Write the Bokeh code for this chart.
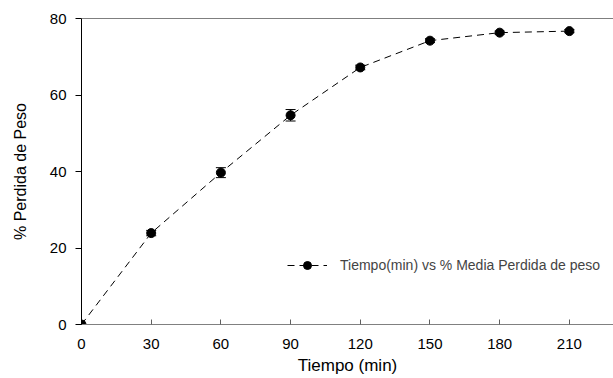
from bokeh.plotting import figure
from bokeh.models import Whisker, ColumnDataSource, Span, Legend, LegendItem, FixedTicker, Range1d
from bokeh.embed import file_html
from bokeh.resources import INLINE

tiempo = [0, 30, 60, 90, 120, 150, 180, 210]
perdida = [0.0, 23.9, 39.7, 54.7, 67.2, 74.2, 76.3, 76.7]
error = [0.0, 0.7, 1.3, 1.5, 0.6, 0.5, 0.4, 0.4]
x_ticks = [0, 30, 60, 90, 120, 150, 180, 210]
y_ticks = [0, 20, 40, 60, 80]
x_max = 229
y_max = 80

FONT = "Liberation Sans"

src = ColumnDataSource(dict(
    x=tiempo, y=perdida,
    lo=[v - e for v, e in zip(perdida, error)],
    hi=[v + e for v, e in zip(perdida, error)],
))

p = figure(width=613, height=378, output_backend="svg", toolbar_location=None,
           x_range=Range1d(0, x_max), y_range=Range1d(0, y_max),
           min_border_left=81, min_border_top=18, min_border_bottom=54, min_border_right=0)
p.outline_line_color = None
p.xgrid.visible = False
p.ygrid.visible = False
p.background_fill_color = "white"
p.border_fill_color = "white"

# axes
p.xaxis.ticker = FixedTicker(ticks=x_ticks)
p.yaxis.ticker = FixedTicker(ticks=y_ticks)
p.xaxis.axis_label = "Tiempo (min)"
p.yaxis.axis_label = "% Perdida de Peso"
for ax in (p.xaxis, p.yaxis):
    ax.axis_label_text_font = FONT
    ax.axis_label_text_font_style = "normal"
    ax.major_label_text_font = FONT
    ax.major_label_text_font_size = "15px"
    ax.major_label_text_color = "black"
    ax.axis_label_text_color = "black"
    ax.minor_tick_line_color = None
p.xaxis.axis_label_text_font_size = "17px"
p.yaxis.axis_label_text_font_size = "16px"
p.xaxis.axis_line_color = "#808080"
p.xaxis.major_tick_line_color = "#606060"
p.xaxis.major_tick_in = 5
p.xaxis.major_tick_out = 0
p.xaxis.major_label_standoff = 14
p.xaxis.axis_label_standoff = 4
p.yaxis.axis_line_color = "black"
p.yaxis.major_tick_line_color = "black"
p.yaxis.major_tick_in = 0
p.yaxis.major_tick_out = 6
p.yaxis.major_label_standoff = 9
p.yaxis.axis_label_standoff = 18

p.add_layout(Span(location=y_max, dimension="width", line_color="black", line_width=1))

# error bars
w = Whisker(source=src, base="x", lower="lo", upper="hi", line_color="black", line_width=1)
w.upper_head.size = 10
w.lower_head.size = 10
w.upper_head.line_color = "black"
w.lower_head.line_color = "black"
p.add_layout(w)

ln = p.line("x", "y", source=src, line_color="black", line_width=1, line_dash="7 5")
sc = p.scatter("x", "y", source=src, size=9, fill_color="black", line_color="black")

legend = Legend(items=[LegendItem(label="Tiempo(min) vs % Media Perdida de peso", renderers=[ln, sc])],
                location=(206, 49), border_line_color=None, background_fill_alpha=0,
                label_text_font=FONT, label_text_font_size="14px", glyph_width=40,
                label_standoff=13, padding=0, margin=0)
p.add_layout(legend)

open("out.html", "w").write(file_html(p, INLINE))
